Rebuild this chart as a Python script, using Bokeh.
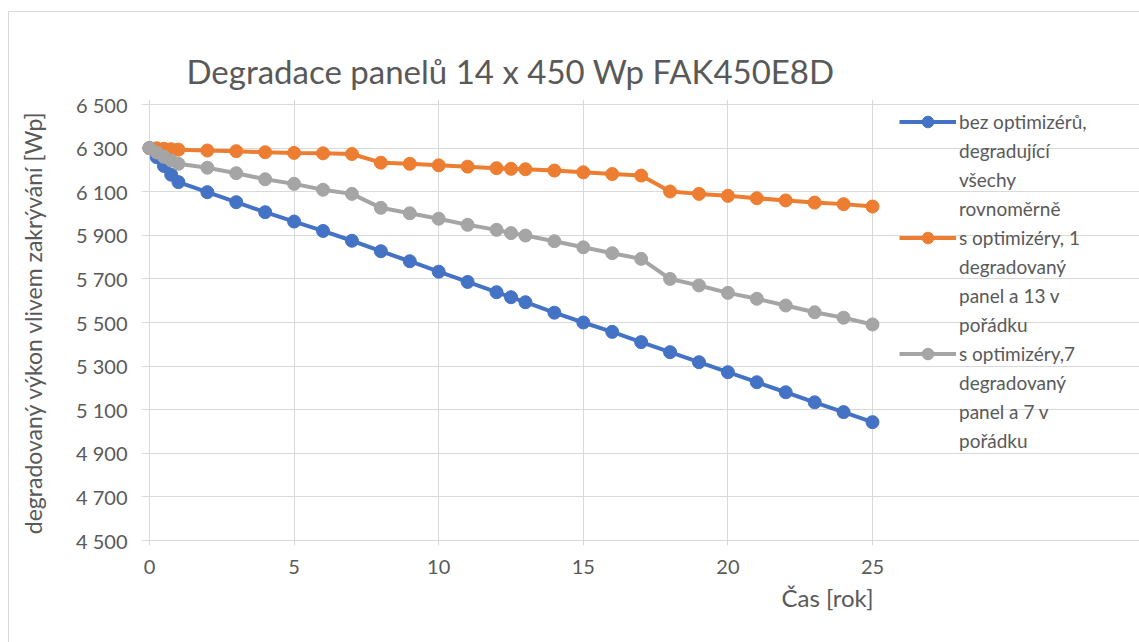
from bokeh.plotting import figure
from bokeh.models import Legend, LegendItem, FixedTicker, Title, ColumnDataSource
from bokeh.embed import file_html
from bokeh.resources import INLINE

# ---- data ----
years = [0, 0.25, 0.5, 0.75, 1, 2, 3, 4, 5, 6, 7, 8, 9, 10, 11, 12, 12.5, 13,
         14, 15, 16, 17, 18, 19, 20, 21, 22, 23, 24, 25]
bez_optimizeru = [6300, 6258, 6218, 6178, 6144, 6098, 6052, 6006, 5963, 5920,
                  5875, 5827, 5781, 5733, 5686, 5639, 5616, 5593, 5545, 5500,
                  5457, 5410, 5364, 5318, 5272, 5226, 5180, 5134, 5089, 5043]
opt_1_degr = [6300, 6299, 6297, 6295, 6293, 6289, 6286, 6281, 6278, 6276,
              6273, 6233, 6228, 6221, 6215, 6208, 6205, 6203, 6197, 6189,
              6181, 6174, 6101, 6090, 6081, 6070, 6060, 6050, 6043, 6032]
opt_7_degr = [6300, 6280, 6260, 6243, 6228, 6210, 6185, 6157, 6136, 6109,
              6090, 6026, 6001, 5976, 5948, 5925, 5910, 5899, 5873, 5845,
              5818, 5792, 5700, 5670, 5636, 5609, 5578, 5547, 5522, 5491]

# legend texts, one list of wrapped lines per series
series_names = [
    ["bez optimizérů,", "degradující", "všechy", "rovnoměrně"],
    ["s optimizéry, 1", "degradovaný", "panel a 13 v", "pořádku"],
    ["s optimizéry,7", "degradovaný", "panel a 7 v", "pořádku"],
]
series_colors = ["#4472C4", "#ED7D31", "#A5A5A5"]

y_ticks = [4500, 4700, 4900, 5100, 5300, 5500, 5700, 5900, 6100, 6300, 6500]
y_tick_labels = ["4 500", "4 700", "4 900", "5 100", "5 300", "5 500",
                 "5 700", "5 900", "6 100", "6 300", "6 500"]
x_ticks = [0, 5, 10, 15, 20, 25]
x_min, x_max = 0, 25
y_min, y_max = 4500, 6500

title_text = "Degradace panelů 14 x 450 Wp FAK450E8D"
x_label = "Čas [rok]"
y_label = "degradovaný výkon vlivem zakrývání [Wp]"

FONT = "Lato"
TXT = "#595959"
GRID = "#D9D9D9"

# frame padding (pixels) so that edge gridlines and edge markers are not clipped
px_per_year = 723 / 25.0
px_per_wp = 436 / 2000.0
pad_y = 5
x_start = x_min - 8 / px_per_year
x_end = x_min + (1139 - 148) / px_per_year
y_start = y_min - pad_y / px_per_wp
y_end = y_max + pad_y / px_per_wp

p = figure(width=1131, height=631, output_backend="svg", toolbar_location=None,
           x_range=(x_start, x_end), y_range=(y_start, y_end),
           min_border_left=132, min_border_right=0,
           min_border_top=87, min_border_bottom=98,
           margin=(11, 0, 0, 8))
p.styles = {"border-left": "1px solid #D9D9D9", "border-top": "1px solid #D9D9D9"}

p.title.text = title_text
p.title.align = "left"
p.title.offset = 45
p.title.text_font = FONT
p.title.text_font_size = "33px"
p.title.text_font_style = "normal"
p.title.text_color = TXT
p.title.standoff = 17

p.outline_line_color = None
p.xgrid.grid_line_color = GRID
p.ygrid.grid_line_color = GRID
p.ygrid.bounds = (x_min, x_max)
p.xgrid.bounds = (y_min, y_max)
p.xaxis.ticker = FixedTicker(ticks=x_ticks)
p.yaxis.ticker = FixedTicker(ticks=y_ticks)
p.yaxis.major_label_overrides = {t: l for t, l in zip(y_ticks, y_tick_labels)}

for ax in (p.xaxis, p.yaxis):
    ax.axis_line_color = None
    ax.major_tick_line_color = None
    ax.minor_tick_line_color = None
    ax.major_label_text_font = FONT
    ax.major_label_text_font_size = "20px"
    ax.major_label_text_color = TXT
    ax.axis_label_text_font = FONT
    ax.axis_label_text_font_size = "23px"
    ax.axis_label_text_font_style = "normal"
    ax.axis_label_text_color = TXT

p.xaxis.major_label_standoff = 8
p.yaxis.major_label_standoff = 8
p.yaxis.axis_label = y_label
p.yaxis.axis_label_standoff = 26

xt = Title(text=x_label, align="left", text_font=FONT, text_font_size="24px",
           text_font_style="normal", text_color=TXT, standoff=9, offset=640)
p.add_layout(xt, "below")

dummy = p.scatter(x=[], y=[], fill_alpha=0, line_alpha=0)

items = []
for vals, lines, col in zip([bez_optimizeru, opt_1_degr, opt_7_degr], series_names, series_colors):
    src = ColumnDataSource(dict(x=years, y=vals))
    lr = p.line("x", "y", source=src, line_color=col, line_width=4)
    sr = p.scatter("x", "y", source=src, size=13, fill_color=col, line_color=col)
    items.append(LegendItem(label=lines[0], renderers=[lr, sr]))
    for extra in lines[1:]:
        items.append(LegendItem(label=extra, renderers=[dummy]))

legend = Legend(items=items, location=(758, 90),
                label_text_font=FONT, label_text_font_size="19px",
                label_text_color=TXT, border_line_color=None,
                background_fill_alpha=0, glyph_width=57, glyph_height=29,
                label_height=29, label_standoff=3, spacing=0, padding=0, margin=0)
p.add_layout(legend)

open("out.html", "w").write(file_html(p, INLINE))
